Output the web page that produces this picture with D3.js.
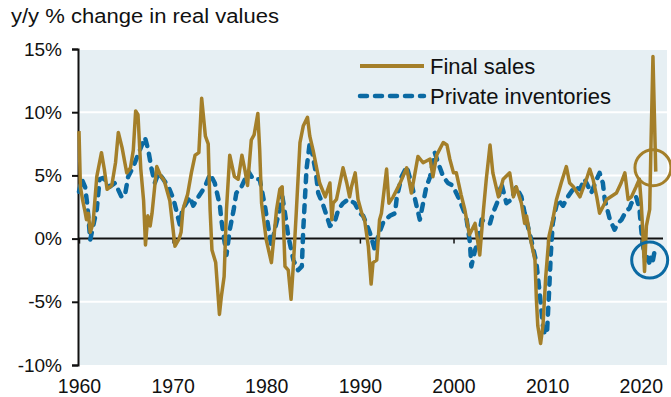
<!DOCTYPE html>
<html>
<head>
<meta charset="utf-8">
<script src="https://cdn.jsdelivr.net/npm/d3@7"></script>
<style>
  html, body { margin: 0; padding: 0; background: #ffffff; }
  svg { display: block; font-family: "Liberation Sans", Arial, sans-serif; }
</style>
</head>
<body>
<svg id="chart" width="671" height="397"></svg>
<script>
// Real final sales, y/y % change: [year, value]
const finalSales = [
  [1960.0, 8.5], [1960.15, 4.1], [1960.4, 3.0], [1960.6, 2.3], [1960.8, 1.5], [1961.0, 2.0],
  [1961.2, 0.5], [1961.5, 1.2], [1961.9, 4.9], [1962.4, 6.8], [1962.7, 5.5], [1963.0, 3.9],
  [1963.5, 4.2], [1963.9, 6.0], [1964.2, 8.4], [1964.6, 7.2], [1965.1, 5.2], [1965.5, 5.6],
  [1965.8, 7.0], [1966.05, 10.1], [1966.3, 9.8], [1966.6, 5.5], [1966.9, 3.0], [1967.1, -0.5],
  [1967.35, 1.8], [1967.6, 1.0], [1967.8, 2.0], [1968.3, 5.7], [1968.7, 5.0], [1969.1, 4.6],
  [1969.7, 3.0], [1970.25, -0.6], [1970.7, 0.0], [1970.9, 0.5], [1971.1, 2.3], [1971.6, 3.5],
  [1972.0, 5.2], [1972.4, 6.6], [1972.8, 6.8], [1973.1, 11.1], [1973.5, 8.1], [1973.8, 7.5],
  [1974.0, 2.3], [1974.2, -0.9], [1974.6, -1.9], [1975.0, -6.0], [1975.2, -4.6], [1975.5, -3.0],
  [1975.75, 2.3], [1976.1, 6.6], [1976.6, 4.9], [1977.0, 4.7], [1977.4, 6.6], [1977.7, 5.5],
  [1978.0, 4.2], [1978.4, 7.8], [1978.7, 8.2], [1979.1, 9.9], [1979.3, 7.0], [1979.5, 2.8],
  [1980.0, -0.1], [1980.55, -1.9], [1981.1, 2.3], [1981.45, 3.9], [1981.7, 4.1], [1982.0, -2.2],
  [1982.35, -2.5], [1982.65, -4.8], [1982.9, -2.0], [1983.2, 2.0], [1983.6, 7.6], [1983.95, 8.9],
  [1984.4, 9.6], [1984.65, 8.1], [1985.0, 7.0], [1985.7, 4.4], [1986.3, 3.3], [1986.8, 4.4],
  [1987.0, 1.5], [1987.15, 2.8], [1987.5, 3.1], [1988.2, 5.6], [1988.6, 4.4], [1988.9, 3.3],
  [1989.1, 4.1], [1989.5, 5.2], [1989.8, 3.1], [1990.2, 2.0], [1990.5, 1.5], [1990.9, -0.6],
  [1991.2, -3.6], [1991.4, -1.9], [1991.8, -1.7], [1992.1, 1.5], [1992.3, 2.0], [1992.85, 5.5],
  [1993.1, 2.8], [1993.55, 3.3], [1994.3, 4.4], [1995.0, 5.6], [1995.5, 3.6], [1996.2, 6.5],
  [1996.75, 6.0], [1997.5, 6.3], [1997.8, 4.9], [1998.2, 6.6], [1998.9, 7.6], [1999.3, 7.4],
  [1999.6, 6.3], [2000.0, 5.2], [2000.3, 5.2], [2000.8, 3.5], [2001.2, 2.3], [2001.7, 0.3],
  [2002.3, 1.2], [2002.8, -1.3], [2003.2, 2.3], [2003.5, 4.7], [2003.9, 7.4], [2004.2, 5.2],
  [2004.8, 3.3], [2005.3, 4.7], [2006.0, 5.2], [2006.4, 3.3], [2006.7, 4.1], [2007.25, 2.8],
  [2007.6, 1.2], [2007.8, 1.8], [2008.15, 0.2], [2008.7, -1.7], [2008.85, -4.8], [2009.0, -6.9],
  [2009.3, -8.3], [2009.55, -6.9], [2009.85, -3.0], [2010.2, 0.2], [2010.6, 1.5], [2011.0, 3.1],
  [2011.5, 4.4], [2012.05, 5.7], [2012.4, 4.4], [2012.8, 4.1], [2013.5, 3.3], [2014.2, 4.7],
  [2014.55, 5.5], [2014.9, 4.7], [2015.3, 3.3], [2015.6, 2.0], [2016.35, 3.1], [2017.4, 3.6],
  [2017.9, 4.4], [2018.3, 5.2], [2018.65, 3.1], [2019.0, 3.3], [2019.5, 4.1], [2019.85, 4.7],
  [2020.05, 2.8], [2020.2, 0.7], [2020.4, -2.6], [2020.6, 1.0], [2020.95, 2.3], [2021.1, 7.8],
  [2021.3, 14.4], [2021.6, 5.3]
];

// Real private inventories, y/y % change: [year, value]
const privateInventories = [
  [1960.0, 3.7], [1960.3, 4.7], [1960.65, 4.1], [1960.9, 2.6], [1961.2, -0.1], [1961.6, 1.3],
  [1961.9, 2.3], [1962.2, 4.7], [1962.6, 4.8], [1963.3, 4.1], [1963.85, 4.4], [1964.55, 3.3],
  [1964.9, 3.4], [1965.25, 4.9], [1965.8, 5.7], [1966.5, 7.0], [1967.05, 8.0], [1967.4, 7.0],
  [1967.75, 5.5], [1968.1, 4.4], [1968.5, 5.2], [1969.0, 4.7], [1969.55, 4.1], [1970.1, 3.1],
  [1970.8, 1.0], [1971.0, 2.2], [1971.3, 2.6], [1971.85, 3.3], [1972.2, 2.6], [1972.75, 3.3],
  [1973.45, 4.1], [1974.0, 5.1], [1974.5, 4.4], [1975.05, 2.6], [1975.2, 1.5], [1975.75, -1.3],
  [1976.1, 0.7], [1976.5, 2.2], [1976.8, 3.6], [1977.35, 4.1], [1978.1, 5.3], [1978.6, 4.7],
  [1979.3, 4.7], [1979.85, 2.6], [1980.55, -0.6], [1980.9, 0.7], [1981.45, 2.3], [1981.6, 3.9],
  [1982.0, 2.0], [1982.35, 0.2], [1982.9, -1.7], [1983.4, -2.5], [1983.8, -2.2], [1983.95, 0.7],
  [1984.3, 5.5], [1984.65, 7.6], [1984.9, 6.8], [1985.3, 5.2], [1985.55, 3.6], [1986.1, 2.6],
  [1986.45, 1.8], [1986.8, 1.0], [1987.3, 1.3], [1987.7, 2.3], [1988.2, 2.8], [1988.75, 3.1],
  [1989.45, 2.8], [1990.0, 2.0], [1990.35, 1.8], [1991.05, 0.5], [1991.6, -0.9], [1991.95, 0.2],
  [1992.5, 1.3], [1993.2, 1.8], [1993.75, 2.0], [1993.95, 3.3], [1994.45, 4.9], [1995.0, 5.7],
  [1995.5, 4.4], [1996.05, 2.6], [1996.4, 1.5], [1997.1, 4.1], [1997.5, 4.9], [1998.0, 6.8],
  [1998.35, 6.0], [1998.9, 4.9], [1999.4, 4.4], [1999.9, 4.2], [2000.5, 3.3], [2001.2, 2.0],
  [2001.4, 1.5], [2001.75, -0.3], [2001.9, -2.2], [2002.3, -0.9], [2002.6, -0.3], [2003.0, 1.5],
  [2003.5, 1.2], [2003.9, 1.2], [2004.2, 2.0], [2004.8, 3.1], [2005.1, 4.4], [2005.65, 2.8],
  [2006.2, 3.1], [2006.7, 4.1], [2007.25, 3.3], [2007.6, 2.0], [2008.3, -0.1], [2008.85, -1.9],
  [2009.2, -4.3], [2009.55, -6.9], [2009.75, -7.6], [2010.0, -7.2], [2010.2, -4.3], [2010.4, -1.1],
  [2010.6, 1.2], [2010.8, 2.0], [2011.15, 3.1], [2011.7, 2.6], [2012.2, 3.3], [2012.95, 4.1],
  [2013.5, 3.9], [2014.0, 4.7], [2014.4, 4.1], [2014.7, 3.6], [2015.3, 4.7], [2015.6, 5.2],
  [2015.95, 4.4], [2016.15, 3.1], [2016.7, 1.5], [2017.2, 0.7], [2017.55, 1.2], [2017.95, 1.5],
  [2018.45, 2.2], [2018.8, 2.4], [2019.0, 2.8], [2019.5, 3.3], [2019.85, 2.4], [2020.05, 0.7],
  [2020.2, -0.3], [2020.4, -1.4], [2020.55, -1.7], [2020.75, -1.3], [2020.9, -1.9], [2021.1, -1.3],
  [2021.3, -1.7], [2021.45, -1.1]
];

const yTicks = [-10, -5, 0, 5, 10, 15];
const xTicks = [1960, 1970, 1980, 1990, 2000, 2010, 2020];
const seriesNames = ["Final sales", "Private inventories"];
const subtitle = "y/y % change in real values";
// Recent readings ringed on the chart: [year, value]
const highlights = [
  { series: 0, at: [2021.3, 5.6] },
  { series: 1, at: [2020.95, -1.7] }
];

const gold = "#a47f29";
const blue = "#0b6aa3";

const svg = d3.select("#chart");
const plot = { left: 78, right: 667, top: 49, bottom: 365 };

const x = d3.scaleLinear().domain([1960, 2022.8]).range([79, plot.right]);
const y = d3.scaleLinear().domain([-10, 15]).range([plot.bottom, plot.top]);

// Subtitle
svg.append("text")
  .attr("x", 11).attr("y", 23)
  .attr("font-size", 20)
  .attr("textLength", 268).attr("lengthAdjust", "spacingAndGlyphs")
  .attr("fill", "#111")
  .text(subtitle);

// Plot background
svg.append("rect")
  .attr("x", plot.left).attr("y", plot.top)
  .attr("width", plot.right - plot.left).attr("height", plot.bottom - plot.top)
  .attr("fill", "#e6eff3");

// Horizontal gridlines
svg.append("g").selectAll("line")
  .data(yTicks.filter(d => d !== 0 && d !== -10))
  .join("line")
  .attr("x1", plot.left).attr("x2", plot.right)
  .attr("y1", d => y(d)).attr("y2", d => y(d))
  .attr("stroke", "#ffffff").attr("stroke-width", 2);

// Y axis
const yAxis = svg.append("g")
  .attr("transform", `translate(${plot.left},0)`)
  .call(d3.axisLeft(y).tickValues(yTicks).tickSize(6).tickPadding(10).tickFormat(d => d + "%"));
yAxis.select(".domain").attr("stroke", "#111").attr("stroke-width", 2);
yAxis.selectAll(".tick line").attr("stroke", "#111").attr("stroke-width", 2);
yAxis.selectAll(".tick text")
  .attr("font-size", 19)
  .attr("font-family", "'Liberation Sans', Arial, sans-serif")
  .attr("fill", "#111");

// X axis drawn along the zero line
const xAxis = svg.append("g")
  .attr("transform", `translate(0,${y(0)})`)
  .call(d3.axisBottom(x).tickValues(xTicks).tickSize(5).tickSizeOuter(0).tickFormat(d3.format("d")));
xAxis.select(".domain").attr("d", `M${plot.left},0H${plot.right - 4}`)
  .attr("stroke", "#111").attr("stroke-width", 2);
xAxis.selectAll(".tick line").attr("stroke", "#111").attr("stroke-width", 1.5);
xAxis.selectAll(".tick text")
  .attr("y", plot.bottom - y(0) + 14)
  .attr("font-size", 19.5)
  .attr("font-family", "'Liberation Sans', Arial, sans-serif")
  .attr("fill", "#111");

const line = d3.line().x(d => x(d[0])).y(d => y(d[1])).curve(d3.curveLinear);

svg.append("path")
  .datum(privateInventories)
  .attr("d", line)
  .attr("fill", "none")
  .attr("stroke", blue).attr("stroke-width", 4.5)
  .attr("stroke-dasharray", "7,8").attr("stroke-linecap", "round").attr("stroke-linejoin", "round");

svg.append("path")
  .datum(finalSales)
  .attr("d", line)
  .attr("fill", "none")
  .attr("stroke", gold).attr("stroke-width", 3.5)
  .attr("stroke-linejoin", "round");

// Rings around the latest readings
svg.append("g").selectAll("circle")
  .data(highlights)
  .join("circle")
  .attr("cx", d => x(d.at[0])).attr("cy", d => y(d.at[1]))
  .attr("r", 18)
  .attr("fill", "none")
  .attr("stroke", d => d.series === 0 ? gold : blue)
  .attr("stroke-width", 3);

// Legend
const legend = svg.append("g");
const legendRows = legend.selectAll("g")
  .data(seriesNames)
  .join("g")
  .attr("transform", (d, i) => `translate(360,${66 + i * 30})`);
legendRows.append("line")
  .attr("x1", 0).attr("x2", 64).attr("y1", 0).attr("y2", 0)
  .attr("stroke", (d, i) => i === 0 ? gold : blue)
  .attr("stroke-width", (d, i) => i === 0 ? 4 : 4.5)
  .attr("stroke-dasharray", (d, i) => i === 0 ? null : "7,8")
  .attr("stroke-linecap", (d, i) => i === 0 ? "butt" : "round");
legendRows.append("text")
  .attr("x", 70).attr("y", 8)
  .attr("font-size", 22)
  .attr("fill", "#111")
  .text(d => d);
</script>
</body>
</html>
